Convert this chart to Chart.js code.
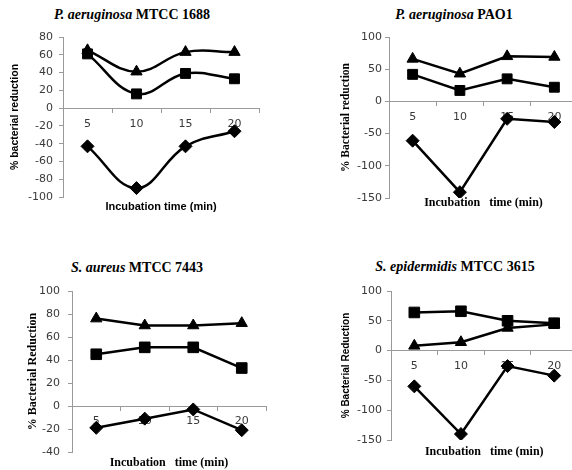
<!DOCTYPE html>
<html>
<head>
<meta charset="utf-8">
<script src="https://cdn.jsdelivr.net/npm/chart.js@4.4.0/dist/chart.umd.min.js"></script>
<style>
html, body { margin: 0; padding: 0; background: #fff; width: 572px; height: 470px; overflow: hidden; position: relative; }
canvas { position: absolute; }
.ttl { position: absolute; transform: translate(-50%, -50%); font: bold 14px 'Liberation Serif', serif; white-space: nowrap; color: #000; }
</style>
</head>
<body>
<div class="ttl" style="left:132px;top:15px"><i>P. aeruginosa</i> MTCC 1688</div>
<div class="ttl" style="left:454px;top:15px"><i>P. aeruginosa</i> PAO1</div>
<div class="ttl" style="left:137px;top:268px"><i>S. aureus</i> MTCC 7443</div>
<div class="ttl" style="left:455px;top:267px"><i>S. epidermidis</i> MTCC 3615</div>
<canvas id="c1" style="left:0px;top:0px" width="286" height="230"></canvas>
<canvas id="c2" style="left:286px;top:0px" width="300" height="230"></canvas>
<canvas id="c3" style="left:0px;top:235px" width="286" height="235"></canvas>
<canvas id="c4" style="left:286px;top:235px" width="300" height="235"></canvas>
<script>
var times = ['5', '10', '15', '20'];

// P. aeruginosa MTCC 1688
var pa1688Triangle = [65, 41, 63, 63];
var pa1688Square = [61, 16, 39, 33];
var pa1688Diamond = [-43, -90, -43, -26];

// P. aeruginosa PAO1
var pao1Triangle = [66, 43, 70, 69];
var pao1Square = [42, 17, 35, 22];
var pao1Diamond = [-61, -141, -27, -32];

// S. aureus MTCC 7443
var saTriangle = [76, 70, 70, 72];
var saSquare = [45, 51, 51, 33];
var saDiamond = [-19, -11, -3, -21];

// S. epidermidis MTCC 3615
var seSquare = [64, 66, 50, 46];
var seTriangle = [8, 14, 38, 44];
var seDiamond = [-60, -140, -26, -42];

var axisGrey = '#9a9a9a';
var tickFont = { family: 'DejaVu Sans', size: 11 };

function series(values, style, radius) {
    return {
        data: values,
        xAxisID: 'x',
        yAxisID: 'y',
        borderColor: '#000',
        backgroundColor: '#000',
        borderWidth: 2.5,
        pointStyle: style,
        pointRadius: radius,
        pointBorderWidth: 1,
        pointBackgroundColor: '#000',
        pointBorderColor: '#000',
        fill: false
    };
}

function buildChart(id, g) {
    var canvas = document.getElementById(id);
    var W = canvas.width, H = canvas.height;
    var lhY = g.yTitleFont.size * 1.2;
    var lhX = g.xTitleFont.size * 1.2;
    var padLeft = g.yTitleX - lhY / 2;
    var x2Bottom = g.xTitleY + lhX / 2;

    new Chart(canvas.getContext('2d'), {
        type: 'line',
        data: {
            labels: times,
            datasets: g.datasets
        },
        options: {
            responsive: false,
            animation: false,
            events: [],
            tension: g.tension || 0,
            layout: {
                padding: { left: padLeft, top: g.area[1], right: W - g.area[2], bottom: H - x2Bottom }
            },
            plugins: { legend: { display: false }, tooltip: { enabled: false } },
            scales: {
                x: {
                    type: 'category',
                    position: { y: 0 },
                    offset: true,
                    grid: { offset: true, drawOnChartArea: false, drawTicks: true, tickLength: 4, color: axisGrey },
                    border: { display: true, color: axisGrey, width: 1 },
                    ticks: { font: tickFont, color: '#3a3a3a', padding: 5, maxRotation: 0 }
                },
                x2: {
                    type: 'category',
                    position: 'bottom',
                    grid: { display: false },
                    border: { display: false },
                    ticks: { display: false },
                    title: { display: true, text: g.xTitle, font: g.xTitleFont, color: '#000', padding: 0 },
                    afterFit: function (scale) { scale.height = x2Bottom - g.area[3]; }
                },
                y: {
                    min: g.yMin,
                    max: g.yMax,
                    ticks: { stepSize: g.yStep, font: tickFont, color: '#3a3a3a', padding: g.yPad },
                    grid: { drawOnChartArea: false, drawTicks: true, tickLength: 4, color: axisGrey },
                    border: { display: true, color: axisGrey, width: 1 },
                    title: { display: true, text: g.yTitle, font: g.yTitleFont, color: '#000', padding: 0 },
                    afterFit: function (scale) { scale.width = g.area[0] - padLeft; }
                }
            }
        }
    });
}

var sansBold = function (size) { return { family: 'Liberation Sans', size: size, weight: 'bold' }; };
var serifBold = function (size) { return { family: 'Liberation Serif', size: size, weight: 'bold' }; };

buildChart('c1', {
    area: [63, 37, 259, 197],
    yMin: -100, yMax: 80, yStep: 20, yPad: 6,
    tension: 0.4,
    yTitle: '% bacterial reduction', yTitleFont: sansBold(10.5), yTitleX: 15,
    xTitle: 'Incubation time (min)', xTitleFont: sansBold(11), xTitleY: 207,
    datasets: [
        series(pa1688Triangle, 'triangle', 6.5),
        series(pa1688Square, 'rect', 7),
        series(pa1688Diamond, 'rectRot', 6.5)
    ]
});

buildChart('c2', {
    area: [103, 37, 293, 198],
    yMin: -150, yMax: 100, yStep: 50, yPad: 3,
    yTitle: '% Bacterial reduction', yTitleFont: serifBold(11.5), yTitleX: 60,
    xTitle: 'Incubation   time (min)', xTitleFont: serifBold(12), xTitleY: 203,
    datasets: [
        series(pao1Triangle, 'triangle', 6.5),
        series(pao1Square, 'rect', 7),
        series(pao1Diamond, 'rectRot', 6.5)
    ]
});

buildChart('c3', {
    area: [72, 56, 266, 217],
    yMin: -40, yMax: 100, yStep: 20, yPad: 8,
    yTitle: '% Bacterial Reduction', yTitleFont: serifBold(12), yTitleX: 33,
    xTitle: 'Incubation   time (min)', xTitleFont: serifBold(12), xTitleY: 228,
    datasets: [
        series(saTriangle, 'triangle', 6.5),
        series(saSquare, 'rect', 7.5),
        series(saDiamond, 'rectRot', 6.5)
    ]
});

buildChart('c4', {
    area: [105, 56, 293, 205],
    yMin: -150, yMax: 100, yStep: 50, yPad: 5,
    yTitle: '% Bacterial Reduction', yTitleFont: sansBold(10), yTitleX: 60,
    xTitle: 'Incubation   time (min)', xTitleFont: serifBold(12), xTitleY: 217,
    datasets: [
        series(seSquare, 'rect', 7.5),
        series(seTriangle, 'triangle', 6.5),
        series(seDiamond, 'rectRot', 6.5)
    ]
});
</script>
</body>
</html>
